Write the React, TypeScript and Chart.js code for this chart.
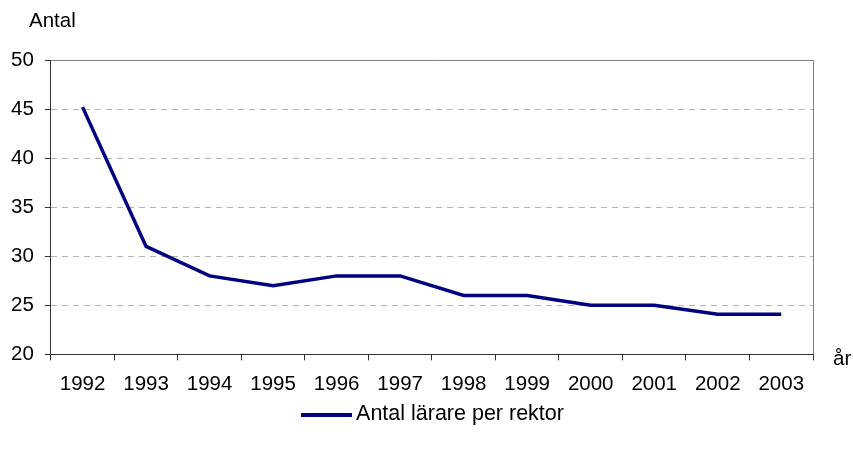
import React, { useEffect, useRef } from "react";
import { Chart, registerables } from "chart.js";

Chart.register(...registerables);

const years = ["1992", "1993", "1994", "1995", "1996", "1997", "1998", "1999", "2000", "2001", "2002", "2003"];
const teachersPerPrincipal = [45.2, 31, 28, 27, 28, 28, 26, 26, 25, 25, 24.1, 24.1];
const seriesLabel = "Antal lärare per rektor";
const yAxisTitle = "Antal";
const xAxisTitle = "år";

const FONT = "'Liberation Sans', Arial, sans-serif";
const FS = 20.5;

const framePlugin = {
  id: "frame",
  afterDraw(chart: any) {
    const { ctx, chartArea } = chart;
    ctx.save();
    ctx.strokeStyle = "#808080";
    ctx.lineWidth = 1;
    ctx.beginPath();
    ctx.moveTo(chartArea.left, chartArea.top + 0.5);
    ctx.lineTo(chartArea.right + 0.5, chartArea.top + 0.5);
    ctx.lineTo(chartArea.right + 0.5, chartArea.bottom);
    ctx.stroke();
    ctx.fillStyle = "#000";
    ctx.font = `${FS}px ${FONT}`;
    ctx.textBaseline = "middle";
    ctx.textAlign = "left";
    ctx.fillText(yAxisTitle, 29, 21);
    ctx.fillText(xAxisTitle, chartArea.right + 20, chartArea.bottom + 5);

    // legend (single series) centred under the chart
    const ds = chart.data.datasets[0];
    ctx.font = `21.5px ${FONT}`;
    const label = ds.label as string;
    const tw = ctx.measureText(label).width;
    const boxW = 51;
    const gap = 4;
    const total = boxW + gap + tw;
    const x0 = (chart.width - total) / 2 + 6;
    const yc = 414;
    ctx.strokeStyle = ds.borderColor;
    ctx.lineWidth = 4;
    ctx.beginPath();
    ctx.moveTo(x0, yc + 1);
    ctx.lineTo(x0 + boxW, yc + 1);
    ctx.stroke();
    ctx.fillStyle = "#000";
    ctx.fillText(label, x0 + boxW + gap, yc);
    ctx.restore();
  },
};

export default function App() {
  const ref = useRef<HTMLCanvasElement>(null);
  useEffect(() => {
    document.body.style.margin = "0";
    const chart = new Chart(ref.current!, {
      type: "line",
      data: {
        labels: years,
        datasets: [
          {
            label: seriesLabel,
            data: teachersPerPrincipal,
            borderColor: "#000080",
            backgroundColor: "#000080",
            borderWidth: 3.5,
            pointRadius: 0,
            tension: 0,
          },
        ],
      },
      options: {
        animation: false,
        responsive: false,
        layout: { padding: { top: 60, left: 0, right: 40, bottom: 40 } },
        plugins: {
          legend: { display: false },
          tooltip: { enabled: false },
        },
        scales: {
          x: {
            type: "category",
            offset: true,
            grid: { offset: true, drawOnChartArea: false, tickLength: 6, color: "#333" },
            border: { color: "#333", width: 1 },
            ticks: { font: { family: FONT, size: FS }, color: "#000", padding: 12, maxRotation: 0 },
          },
          y: {
            min: 20,
            max: 50,
            ticks: { stepSize: 5, font: { family: FONT, size: FS }, color: "#000", padding: 11 },
            grid: {
              tickLength: 6,
              color: (c: any) => (c.tick && (c.tick.value === 50 || c.tick.value === 20) ? "rgba(0,0,0,0)" : "#b4b4b4"),
              tickColor: "#333",
            },
            border: { color: "#333", width: 1, dash: [6, 5] },
          },
        },
      },
      plugins: [framePlugin],
    });
    return () => chart.destroy();
  }, []);
  return <canvas ref={ref} width={853} height={449} style={{ display: "block" }} />;
}
